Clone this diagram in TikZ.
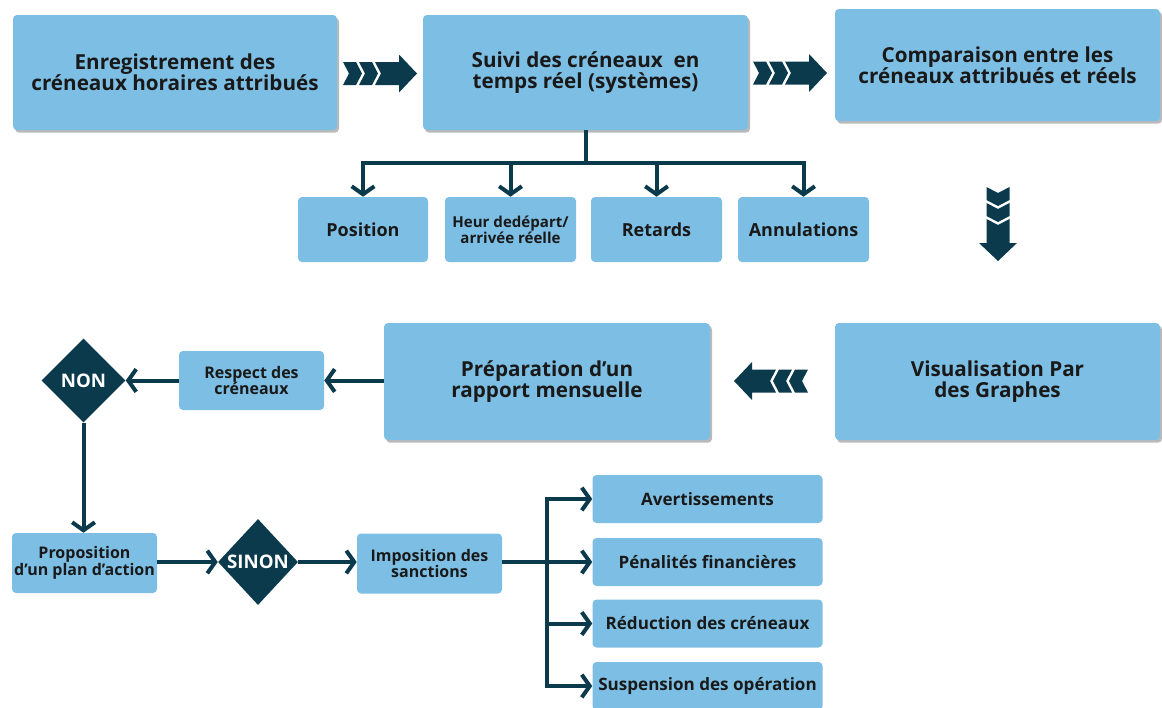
\documentclass[tikz,border=0pt]{standalone}
\usepackage{fontspec}
\setmainfont{Open Sans}
\usetikzlibrary{arrows.meta,shapes.geometric,shadows}
\definecolor{boxblue}{HTML}{7DBFE4}
\definecolor{dark}{HTML}{0B3A4D}
\def\u{0.75pt}
\tikzset{
  box/.style={fill=boxblue, rounded corners=3pt, align=center, inner sep=1pt, text=black!90, font=\bfseries},
  bigbox/.style={box, drop shadow={shadow xshift=1.5pt, shadow yshift=-2pt, fill=black!45, opacity=0.6}, font=\fontsize{15.5}{16}\selectfont\bfseries},
  smallbox/.style={box, font=\fontsize{13.5}{14}\selectfont\bfseries},
  sidebox/.style={box, minimum width=230*\u, minimum height=48*\u, font=\fontsize{12.8}{14}\selectfont\bfseries},
  tinybox/.style={box, font=\fontsize{12}{12.5}\selectfont\bfseries},
  heurbox/.style={box, font=\fontsize{11.3}{12}\selectfont\bfseries},
  dia/.style={diamond, fill=dark, text=white, inner sep=0pt, font=\fontsize{14}{15}\selectfont\bfseries},
  conn/.style={draw=dark, line width=3pt},
  arr/.style={conn, -{Straight Barb[length=6pt,width=17pt]}},
  chev/.pic={
    \fill[dark] (0,-11.5) -- (13,-11.5) -- (19,0) -- (13,11.5) -- (0,11.5) -- (6,0) -- cycle;
    \fill[dark] (16,-11.5) -- (29,-11.5) -- (35,0) -- (29,11.5) -- (16,11.5) -- (22,0) -- cycle;
    \fill[dark] (32,-11.5) -- (56,-11.5) -- (56,-19) -- (74,0) -- (56,19) -- (56,11.5) -- (32,11.5) -- (38,0) -- cycle;
  }
}
\begin{document}
\begin{tikzpicture}[x=0.75pt,y=-0.75pt]
\useasboundingbox (0,0) rectangle (1162,707);
% top row
\node[bigbox, minimum width=324*\u, minimum height=115*\u] (A) at (175,72.5) {Enregistrement des\\créneaux horaires attribués};
\node[bigbox, minimum width=325*\u, minimum height=115*\u] (B) at (585.5,72.5) {Suivi des créneaux\ \ en\\temps réel (systèmes)};
\node[bigbox, minimum width=325*\u, minimum height=112*\u] (C) at (997.5,65) {Comparaison entre les\\créneaux attribués et réels};
\pic at (343,73.5) {chev};
\pic at (753,73) {chev};
\pic[rotate=-90] at (998,187) {chev};
% small boxes
\node[smallbox, minimum width=130*\u, minimum height=65*\u] (pos) at (363,229.5) {Position};
\node[heurbox, minimum width=131*\u, minimum height=65*\u] (heur) at (510.5,229.5) {Heur dedépart/\\arrivée réelle};
\node[smallbox, minimum width=131*\u, minimum height=65*\u] (ret) at (656.5,229.5) {Retards};
\node[smallbox, minimum width=131*\u, minimum height=65*\u] (ann) at (803.5,229.5) {Annulations};
\coordinate (j) at (B.south |- 0,163);
\draw[conn] (B.south) -- (j);
\draw[conn] (pos.north |- j) -- (ann.north |- j);
\draw[arr] (j) -| (pos.north);
\draw[arr] (j) -| (heur.north);
\draw[arr] (j) -| (ret.north);
\draw[arr] (j) -| (ann.north);
% middle row
\node[bigbox, minimum width=325*\u, minimum height=117*\u] (D) at (997.5,381.5) {Visualisation Par\\des Graphes};
\node[bigbox, minimum width=326*\u, minimum height=117*\u] (E) at (547,381.5) {Préparation d’un\\rapport mensuelle};
\pic[rotate=180] at (808,381) {chev};
\node[tinybox, minimum width=145*\u, minimum height=59*\u] (resp) at (251.5,380.5) {Respect des\\créneaux};
\node[dia, minimum width=84*\u, minimum height=84*\u] (non) at (83.5,380.5) {NON};
\draw[arr] (E.west |- resp) -- (resp.east);
\draw[arr] (resp.west) -- (non.east);
% bottom row
\node[tinybox, minimum width=145*\u, minimum height=60*\u] (prop) at (84.5,563) {Proposition\\d’un plan d’action};
\node[dia, minimum width=80*\u, minimum height=86*\u] (sinon) at (258,562) {SINON};
\node[tinybox, minimum width=145*\u, minimum height=60*\u] (impo) at (429.5,563.5) {Imposition des\\sanctions};
\draw[arr] (non.south) -- (non.south |- prop.north);
\draw[arr] (prop.east |- sinon) -- (sinon.west);
\draw[arr] (sinon.east) -- (impo.west |- sinon);
\node[sidebox] (av) at (707.5,499) {Avertissements};
\node[sidebox] (pen) at (707.5,562) {Pénalités financières};
\node[sidebox] (red) at (707.5,623.5) {Réduction des créneaux};
\node[sidebox] (sus) at (707.5,686) {Suspension des opération};
\coordinate (bj) at (547,562);
\draw[conn] (impo.east |- bj) -- (bj);
\draw[conn] (547,499) -- (547,686);
\draw[arr] (bj) |- (av.west);
\draw[arr] (bj) -- (pen.west);
\draw[arr] (bj) |- (red.west);
\draw[arr] (bj) |- (sus.west);
\end{tikzpicture}
\end{document}
